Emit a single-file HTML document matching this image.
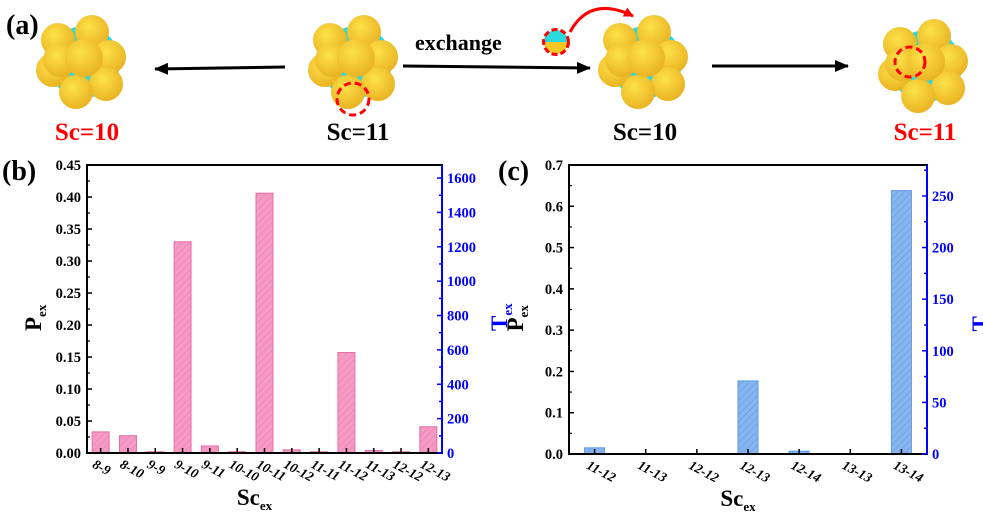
<!DOCTYPE html>
<html><head><meta charset="utf-8"><style>
body{margin:0;background:#fff;width:983px;height:522px;overflow:hidden}
svg{display:block}
text{font-family:"Liberation Serif","DejaVu Serif",serif;font-weight:bold}
</style></head><body>
<svg id="fig" width="983" height="522" viewBox="0 0 983 522" font-family="Liberation Serif, serif">
<defs>
<pattern id="hp" width="5" height="5" patternUnits="userSpaceOnUse" patternTransform="rotate(45)"><rect width="5" height="5" fill="#f59ac4"/><line x1="0" y1="0" x2="0" y2="5" stroke="#e07aa8" stroke-width="0.8"/></pattern>
<pattern id="hb" width="5" height="5" patternUnits="userSpaceOnUse" patternTransform="rotate(45)"><rect width="5" height="5" fill="#86b4ee"/><line x1="0" y1="0" x2="0" y2="5" stroke="#5f92d8" stroke-width="0.8"/></pattern>
<radialGradient id="yg" cx="0.4" cy="0.35" r="0.7"><stop offset="0" stop-color="#fde24a"/><stop offset="1" stop-color="#e8b020"/></radialGradient>
<marker id="ah" markerUnits="userSpaceOnUse" markerWidth="14" markerHeight="12" refX="13" refY="6" orient="auto"><path d="M0,0 L14,6 L0,12 Z" fill="#000"/></marker>
<marker id="ahr" markerUnits="userSpaceOnUse" markerWidth="10" markerHeight="10" refX="9" refY="5" orient="auto"><path d="M0,0 L10,5 L0,10 Z" fill="#f00"/></marker>
</defs>
<text x="6" y="34" font-size="28">(a)</text>
<g id="clusters"></g>
<line x1="285" y1="67" x2="155" y2="69" stroke="#000" stroke-width="3" marker-end="url(#ah)"/>
<line x1="403" y1="66" x2="590" y2="68" stroke="#000" stroke-width="3" marker-end="url(#ah)"/>
<line x1="712" y1="66" x2="848" y2="66" stroke="#000" stroke-width="3" marker-end="url(#ah)"/>
<text x="415" y="50" font-size="22">exchange</text>
<g><path d="M544,42 a12,12 0 0 1 24,0 Z" fill="#2ad8e0"/><path d="M544,42 a12,12 0 0 0 24,0 Z" fill="#f5c826"/><circle cx="556" cy="42" r="12.5" fill="none" stroke="#f00" stroke-width="3" stroke-dasharray="6,3"/></g>
<path d="M570,32 Q590,-5 633,16" fill="none" stroke="#f00" stroke-width="3" marker-end="url(#ahr)"/>
<text x="87" y="140" font-size="25" fill="#f00" text-anchor="middle">Sc=10</text>
<text x="358" y="140" font-size="25" text-anchor="middle">Sc=11</text>
<text x="645" y="140" font-size="25" text-anchor="middle">Sc=10</text>
<text x="925" y="140" font-size="25" fill="#f00" text-anchor="middle">Sc=11</text>
<text x="2" y="180" font-size="28">(b)</text>
<text x="498" y="180" font-size="28">(c)</text>
<g id="chartB"></g><g id="chartC"></g>
</svg>
<script>
const catsB=["8-9","8-10","9-9","9-10","9-11","10-10","10-11","10-12","11-11","11-12","11-13","12-12","12-13"];
const valsB=[0.033,0.027,0.002,0.330,0.011,0.002,0.406,0.005,0.002,0.157,0.004,0.002,0.041];
const ticksBL=["0.00","0.05","0.10","0.15","0.20","0.25","0.30","0.35","0.40","0.45"];
const ticksBR=["0","200","400","600","800","1000","1200","1400","1600"];
const catsC=["11-12","11-13","12-12","12-13","12-14","13-13","13-14"];
const valsC=[0.015,0.001,0.001,0.177,0.007,0.001,0.638];
const ticksCL=["0.0","0.1","0.2","0.3","0.4","0.5","0.6","0.7"];
const ticksCR=["0","50","100","150","200","250"];
const NS="http://www.w3.org/2000/svg";
function mk(p,t,a){const e=document.createElementNS(NS,t);for(const k in a)e.setAttribute(k,a[k]);p.appendChild(e);return e;}
function chart(g,o){
  const {x0,x1,y0,y1,lmax,rmax,cats,vals,tl,tr,bw,fill,stroke}=o;
  const ys=v=>y0-(v/lmax)*(y0-y1), yr=v=>y0-(v/rmax)*(y0-y1);
  const step=(x1-x0)/cats.length, xs=i=>x0+step*(i+0.5);
  vals.forEach((v,i)=>{const r=mk(g,'rect',{x:xs(i)-bw/2,y:ys(v),width:bw,height:y0-ys(v),fill:fill,stroke:stroke,'stroke-width':1});
    
    });
  mk(g,'rect',{x:x0,y:y1,width:x1-x0,height:y0-y1,fill:'none',stroke:'#000','stroke-width':2});
  mk(g,'line',{x1:x1,y1:y1,x2:x1,y2:y0,stroke:'#00f','stroke-width':2});
  tl.forEach((t,i)=>{const v=parseFloat(t),y=ys(v);
    mk(g,'line',{x1:x0,y1:y,x2:x0+5,y2:y,stroke:'#000','stroke-width':1.5});
    if(i<tl.length-1){const ym=ys(v+(parseFloat(tl[1])-parseFloat(tl[0]))/2);mk(g,'line',{x1:x0,y1:ym,x2:x0+3,y2:ym,stroke:'#000','stroke-width':1.2});}
    const tx=mk(g,'text',{x:x0-6,y:y+5,'font-size':14.5,'text-anchor':'end'});tx.textContent=t;
    
    });
  const dr=parseFloat(tr[1])-parseFloat(tr[0]);
  for(let v=0;v<=rmax;v+=dr/2){const y=yr(v),maj=Math.abs(v/dr-Math.round(v/dr))<1e-6;
    mk(g,'line',{x1:x1,y1:y,x2:x1-(maj?5:3),y2:y,stroke:'#00f','stroke-width':1.5});}
  tr.forEach(t=>{const tx=mk(g,'text',{x:x1+5,y:yr(parseFloat(t))+5,'font-size':14.5,fill:'#00f'});tx.textContent=t;
    
    });
  cats.forEach((c,i)=>{mk(g,'line',{x1:xs(i),y1:y0,x2:xs(i),y2:y0-5,stroke:'#000','stroke-width':1.5});
    const tx=mk(g,'text',{x:xs(i)-9,y:y0+14,'font-size':13.5,'font-style':'italic','font-weight':'normal',transform:`rotate(28 ${xs(i)-9} ${y0+14})`});tx.textContent=c;
    
    });
  const xm=(x0+x1)/2;
  const xt=mk(g,'text',{x:xm-10,y:y0+52,'font-size':23,'text-anchor':'middle'});xt.innerHTML='Sc<tspan font-size="13" dy="5">ex</tspan>';
  
  
  const yl=mk(g,'text',{x:0,y:0,'font-size':23,transform:`translate(${x0-46},${(y0+y1)/2+22}) rotate(-90)`});yl.innerHTML='P<tspan font-size="13" dy="5">ex</tspan>';
  
  
  const yr2=mk(g,'text',{x:0,y:0,'font-size':23,fill:'#00f',transform:`translate(${o.rx},${(y0+y1)/2+22}) rotate(-90)`});yr2.innerHTML='T<tspan font-size="13" dy="5">ex</tspan>';
  
  
}
chart(document.getElementById('chartB'),{x0:87,x1:442,y0:453,y1:165,lmax:0.45,rmax:1676,cats:catsB,vals:valsB,tl:ticksBL,tr:ticksBR,bw:17,fill:'url(#hp)',stroke:'#e56fa3',rx:507});
chart(document.getElementById('chartC'),{x0:569,x1:927,y0:454,y1:165,lmax:0.7,rmax:280,cats:catsC,vals:valsC,tl:ticksCL,tr:ticksCR,bw:20,fill:'url(#hb)',stroke:'#5b9ae8',rx:988});
// clusters
const cl=document.getElementById('clusters');
const cent=[[84,62],[356,62],[646,62],[926,66]];
const offs=[[-26,-22],[8,-30],[25,-5],[-31,8],[22,22],[-8,30],[-24,-2],[0,-4]];
cent.forEach((c,k)=>{const g=mk(cl,'g',{});
  
  
  mk(g,'circle',{cx:c[0],cy:c[1],r:36,fill:'#2ad8e0'});
  offs.forEach((o,i)=>mk(g,'circle',{cx:c[0]+o[0],cy:c[1]+o[1],r:i==7?19:17,fill:'url(#yg)'}));
});
mk(cl,'circle',{cx:353,cy:99,r:16,fill:'none',stroke:'#f00','stroke-width':3,'stroke-dasharray':'7,4'});
mk(cl,'circle',{cx:910,cy:62,r:15,fill:'none',stroke:'#f00','stroke-width':3,'stroke-dasharray':'7,4'});
</script>
</body></html>
